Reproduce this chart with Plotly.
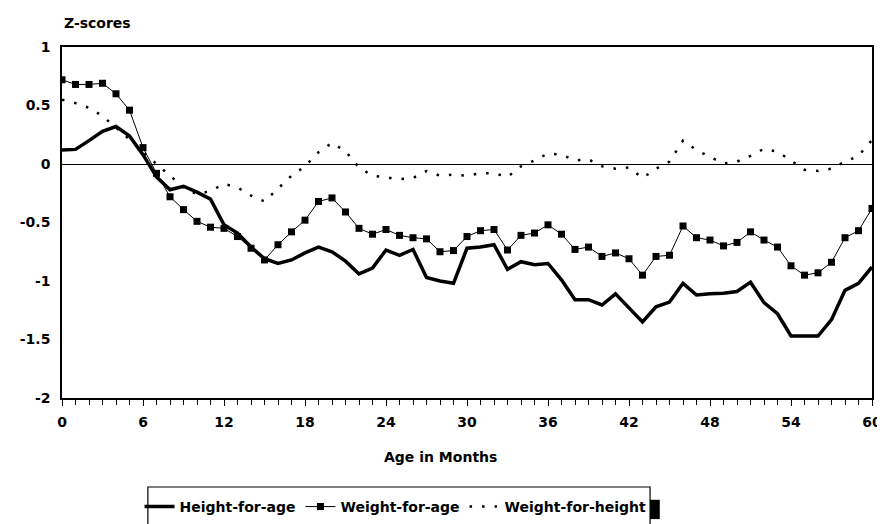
import plotly.graph_objects as go

months = list(range(61))

height_for_age = [0.12, 0.125, 0.20, 0.28, 0.32, 0.24, 0.08, -0.11, -0.22, -0.19,
                  -0.24, -0.30, -0.52, -0.59, -0.71, -0.81, -0.85, -0.82, -0.76, -0.71,
                  -0.75, -0.83, -0.94, -0.89, -0.735, -0.78, -0.73, -0.97, -1.00, -1.02,
                  -0.72, -0.71, -0.69, -0.90, -0.835, -0.86, -0.85, -0.99, -1.16, -1.16,
                  -1.205, -1.11, -1.23, -1.35, -1.22, -1.18, -1.02, -1.12, -1.11, -1.105,
                  -1.09, -1.01, -1.185, -1.28, -1.47, -1.47, -1.47, -1.33, -1.08, -1.02,
                  -0.88]

weight_for_age = [0.72, 0.68, 0.68, 0.69, 0.60, 0.46, 0.14, -0.08, -0.28, -0.39,
                  -0.49, -0.54, -0.55, -0.62, -0.72, -0.82, -0.69, -0.58, -0.48, -0.32,
                  -0.29, -0.41, -0.55, -0.60, -0.56, -0.61, -0.63, -0.64, -0.75, -0.74,
                  -0.62, -0.57, -0.56, -0.735, -0.61, -0.59, -0.52, -0.60, -0.73, -0.71,
                  -0.79, -0.76, -0.81, -0.95, -0.79, -0.78, -0.53, -0.63, -0.65, -0.70,
                  -0.67, -0.58, -0.65, -0.71, -0.87, -0.95, -0.93, -0.84, -0.63, -0.57,
                  -0.38]

weight_for_height = [0.55, 0.52, 0.48, 0.41, 0.31, 0.21, 0.10, 0.0, -0.10, -0.20,
                     -0.26, -0.23, -0.17, -0.20, -0.27, -0.32, -0.21, -0.10, -0.02, 0.10,
                     0.18, 0.11, -0.03, -0.10, -0.115, -0.13, -0.12, -0.06, -0.10, -0.09,
                     -0.10, -0.08, -0.08, -0.11, -0.02, 0.03, 0.09, 0.08, 0.03, 0.04,
                     -0.02, -0.04, -0.03, -0.12, -0.04, 0.02, 0.20, 0.12, 0.06, 0.005,
                     0.02, 0.07, 0.13, 0.105, 0.03, -0.05, -0.06, -0.04, 0.02, 0.07,
                     0.205]

x_tick_vals = [0, 6, 12, 18, 24, 30, 36, 42, 48, 54, 60]
x_tick_text = ["0", "6", "12", "18", "24", "30", "36", "42", "48", "54", "60"]
y_tick_vals = [-2, -1.5, -1, -0.5, 0, 0.5, 1]
y_tick_text = ["-2", "-1.5", "-1", "-0.5", "0", "0.5", "1"]

FONT = "DejaVu Sans"
bold = dict(family=FONT, size=14, color="black", weight="bold")

fig = go.Figure()
fig.add_trace(go.Scatter(
    x=months, y=height_for_age, name="Height-for-age", mode="lines",
    line=dict(color="black", width=3.5)))
fig.add_trace(go.Scatter(
    x=months, y=weight_for_age, name="Weight-for-age", mode="lines+markers",
    line=dict(color="black", width=1),
    marker=dict(symbol="square", size=7, color="black")))
fig.add_trace(go.Scatter(
    x=months, y=weight_for_height, name="Weight-for-height", mode="lines",
    line=dict(color="black", width=2.5, dash="2.5px,10px")))

fig.update_layout(
    width=877, height=516,
    margin=dict(l=54, r=13, t=39, b=126, autoexpand=False),
    paper_bgcolor="white", plot_bgcolor="white",
    font=bold,
    showlegend=True,
    legend=dict(orientation="h", xref="container", yref="container",
                x=0.150, xanchor="left", y=0.033, yanchor="middle",
                bgcolor="rgba(0,0,0,0)", borderwidth=0, font=bold,
                itemwidth=30),
    xaxis=dict(range=[0, 60], tickvals=x_tick_vals, ticktext=x_tick_text,
               showgrid=False, zeroline=False, automargin=False,
               showline=True, linecolor="black", linewidth=1.5, mirror=True,
               ticks="outside", ticklen=6, tickwidth=1.2, tickcolor="black",
               ticklabelstandoff=4,
               minor=dict(dtick=1, ticks="outside", ticklen=5, tickwidth=1, tickcolor="black"),
               tickfont=bold),
    yaxis=dict(range=[-2, 1], tickvals=y_tick_vals, ticktext=y_tick_text,
               showgrid=False, zeroline=True, zerolinecolor="black", zerolinewidth=1.3,
               automargin=False,
               showline=True, linecolor="black", linewidth=1.5, mirror=True,
               ticks="", ticklabelstandoff=7, tickfont=bold),
    annotations=[
        dict(text="Z-scores", xref="paper", yref="paper", x=0.0, y=1.068,
             xanchor="left", yanchor="middle", showarrow=False, font=bold),
        dict(text="Age in Months", xref="paper", yref="paper", x=0.467, y=-0.168,
             xanchor="center", yanchor="middle", showarrow=False, font=bold),
    ],
    shapes=[
        dict(type="rect", xref="paper", yref="paper", x0=0.106, x1=0.726,
             y0=-0.40, y1=-0.2536, line=dict(color="black", width=1.2),
             fillcolor="rgba(0,0,0,0)", layer="above"),
        dict(type="rect", xref="paper", yref="paper", x0=0.726, x1=0.738,
             y0=-0.345, y1=-0.29, line=dict(width=0), fillcolor="black"),
    ],
)

fig.write_html("out.html")
